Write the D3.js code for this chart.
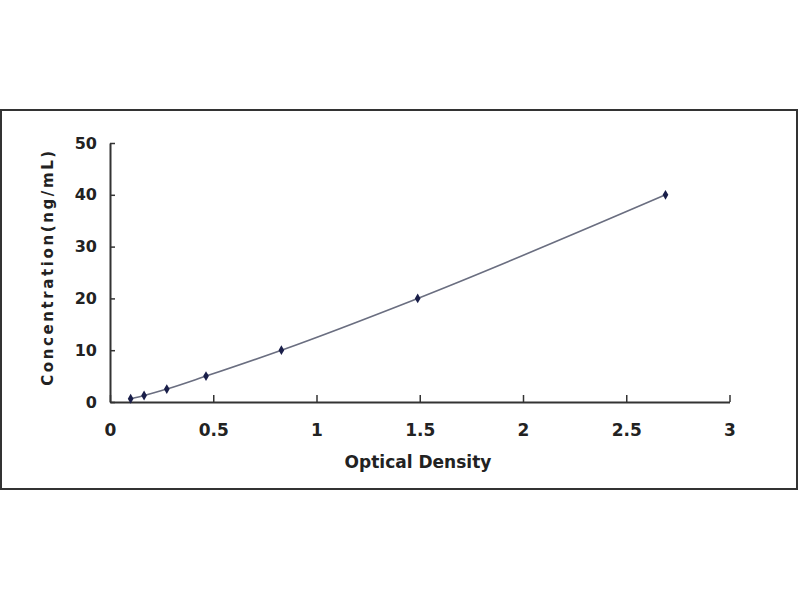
<!DOCTYPE html>
<html>
<head>
<meta charset="utf-8">
<script src="https://cdn.jsdelivr.net/npm/d3@7"></script>
<style>
html,body{margin:0;padding:0;background:#fff;}
svg{display:block;}
text{font-family:"DejaVu Sans",sans-serif;font-weight:bold;fill:#222;}
</style>
</head>
<body>
<svg id="chart" width="800" height="600"></svg>
<script>
const opticalDensity = [0.1, 0.165, 0.275, 0.465, 0.83, 1.49, 2.69];
const concentration = [0.625, 1.25, 2.5, 5, 10, 20, 40];
const xTicks = [0, 0.5, 1, 1.5, 2, 2.5, 3];
const yTicks = [0, 10, 20, 30, 40, 50];
const xTitle = "Optical Density";
const yTitle = "Concentration(ng/mL)";

const svg = d3.select("#chart");
const data = opticalDensity.map((d, i) => ({x: d, y: concentration[i]}));

// outer frame
svg.append("rect").attr("x", 1).attr("y", 110).attr("width", 796).attr("height", 379)
  .attr("fill", "#fff").attr("stroke", "#333").attr("stroke-width", 2);

const x = d3.scaleLinear().domain([0, 3]).range([110, 729.5]);
const y = d3.scaleLinear().domain([0, 50]).range([402, 143]);

const xAxis = svg.append("g").attr("transform", `translate(0,${y(0)})`)
  .call(d3.axisBottom(x).tickValues(xTicks).tickFormat(d3.format("")).tickSizeInner(-7).tickSizeOuter(0).tickPadding(22));
const yAxis = svg.append("g").attr("transform", `translate(${x(0)},0)`)
  .call(d3.axisLeft(y).tickValues(yTicks).tickFormat(d3.format("")).tickSizeInner(-5).tickSizeOuter(0).tickPadding(13));

[xAxis, yAxis].forEach(a => {
  a.select(".domain").attr("stroke", "#333").attr("stroke-width", 2);
  a.selectAll(".tick line").attr("stroke", "#333").attr("stroke-width", 1.5);
  a.selectAll(".tick text").attr("font-size", 16).attr("font-family", "DejaVu Sans, sans-serif")
    .attr("font-weight", "bold").attr("fill", "#222");
});
xAxis.selectAll(".tick text").attr("font-size", 17);

svg.append("text").attr("x", 418).attr("y", 468).attr("text-anchor", "middle")
  .attr("font-size", 17).text(xTitle);
svg.append("text").attr("transform", `translate(53,267) rotate(-90)`).attr("text-anchor", "middle")
  .attr("font-size", 15).attr("letter-spacing", 2.6).text(yTitle);

const line = d3.line().x(d => x(d.x)).y(d => y(d.y)).curve(d3.curveMonotoneX);
svg.append("path").datum(data).attr("d", line).attr("fill", "none")
  .attr("stroke", "#6a6e80").attr("stroke-width", 1.6);

svg.selectAll(".pt").data(data).enter().append("path").attr("class", "pt")
  .attr("transform", d => `translate(${x(d.x)},${y(d.y)})`)
  .attr("d", d3.symbol().type(d3.symbolDiamond).size(28))
  .attr("fill", "#1a1f4a");
</script>
</body>
</html>
